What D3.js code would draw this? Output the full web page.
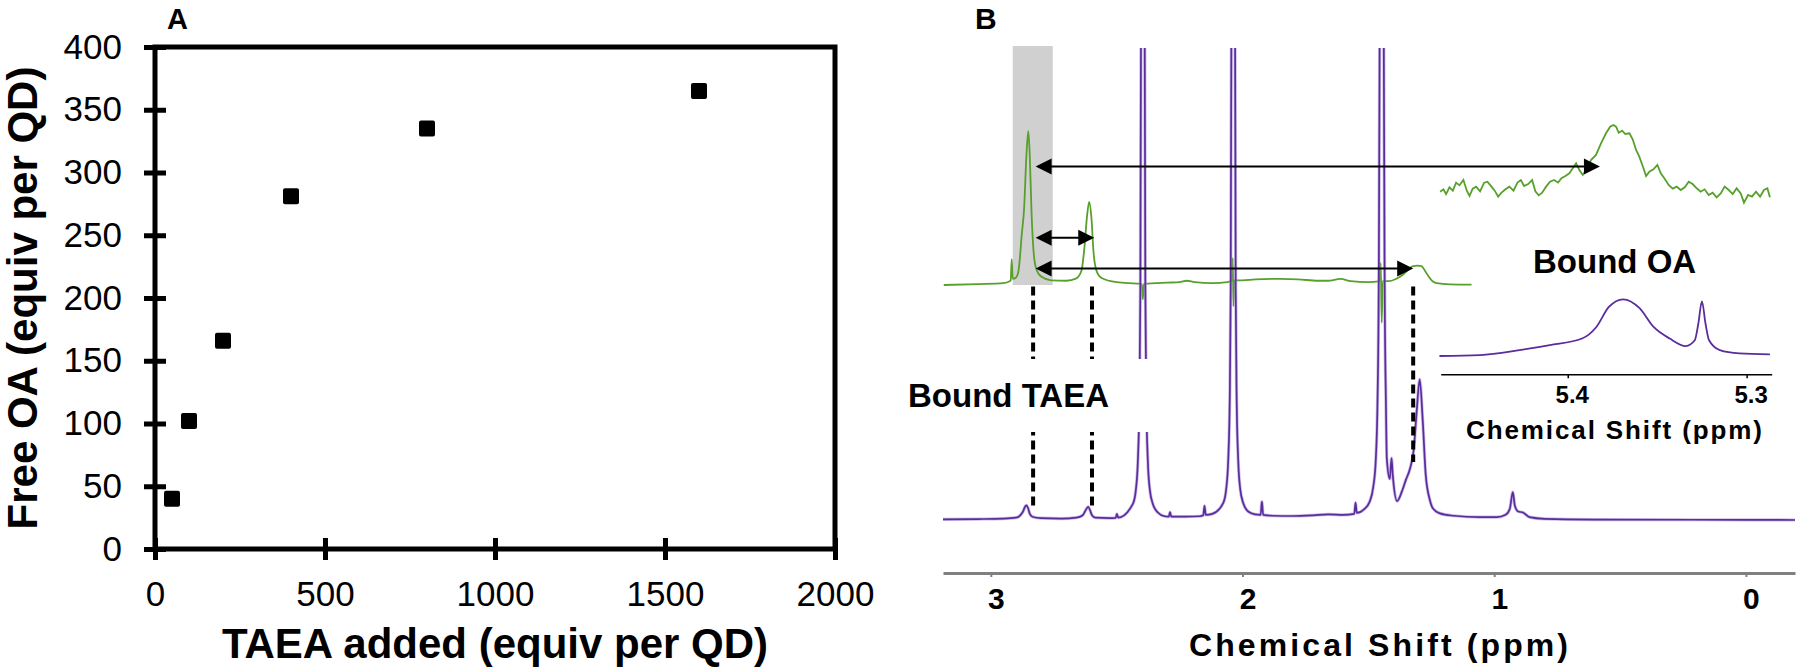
<!DOCTYPE html>
<html><head><meta charset="utf-8">
<script src="https://cdn.jsdelivr.net/npm/d3@7"></script>
<style>
html,body{margin:0;padding:0;background:#fff;}
svg{display:block;font-family:"Liberation Sans",Arial,Helvetica,sans-serif;}
</style></head><body>
<svg id="chart" width="1800" height="672"></svg>
<script>
// ---------- Panel A data ----------
const taeaAdded = [50, 100, 200, 400, 800, 1600];
const freeOA    = [40, 102, 166, 281, 335, 365];
const xTicksA = [0, 500, 1000, 1500, 2000];
const yTicksA = [0, 50, 100, 150, 200, 250, 300, 350, 400];

// ---------- Panel B data (ppm, intensity a.u.) ----------
const xTicksB = [3, 2, 1, 0];
const xTicksInset = [5.4, 5.3];

// lower (purple) spectrum
const purpleMain = [
[3.19,0.15],[3.05,0.2],[2.95,0.3],[2.90,0.5],[2.885,0.9],[2.872,1.8],[2.863,2.9],[2.858,3.1],[2.852,2.5],[2.845,1.3],[2.835,0.7],[2.80,0.4],[2.72,0.3],[2.66,0.5],[2.635,1.0],[2.622,2.2],[2.613,2.8],[2.606,2.1],[2.598,1.0],[2.585,0.5],[2.53,0.4],[2.504,0.45],[2.499,1.3],[2.494,0.5],
[2.4357,3.4],[2.4238,6.4],[2.4159,12.4],[2.4099,25],[2.4059,49],[2.4035,100],[2.396,600],[2.3885,100],[2.3861,49],[2.3821,25],[2.3761,12.4],[2.3682,6.4],[2.3563,3.4],[2.3364,1.6],[2.31,0.8],
[2.293,0.7],[2.288,1.7],[2.283,0.7],[2.23,0.7],[2.17,0.8],[2.156,1.0],[2.151,3.0],[2.146,1.1],[2.12,1.3],
[2.0767,3.6],[2.0648,6.6],[2.0569,12.6],[2.0509,25],[2.0469,49],[2.0445,100],[2.037,600],[2.0295,100],[2.0271,49],[2.0231,25],[2.0171,12.6],[2.0092,6.6],[1.9973,3.6],[1.9774,1.8],[1.95,1.2],
[1.928,1.1],[1.923,3.9],[1.918,1.1],[1.88,0.9],[1.80,0.85],[1.72,1.0],[1.66,1.2],[1.60,1.1],[1.556,1.3],[1.551,3.7],[1.546,1.5],
[1.5185,2.2],[1.4947,3.9],[1.4806,7.0],[1.4708,12.5],[1.4637,25],[1.4589,49],[1.4553,100],[1.447,600],[1.4387,100],[1.4351,49],[1.4303,25],[1.4267,13],[1.4148,8.7],[1.408,13.1],[1.403,9.5],[1.386,4.0],[1.367,6.0],[1.351,8.5],[1.335,10.8],[1.3195,15],[1.308,23],[1.296,29.8],[1.284,21],[1.272,9.5],[1.256,4.3],[1.244,2.5],[1.216,1.4],[1.16,0.9],[1.06,0.6],
[0.99,0.6],[0.955,1.1],[0.938,2.4],[0.926,5.9],[0.918,3.0],[0.905,1.8],[0.886,1.6],[0.86,0.6],[0.80,0.25],[0.60,0.1],[0.20,0.05],[-0.195,0]
];

// upper (green) spectrum
const greenMain = [
[3.187,0],[3.05,0.2],[2.95,0.4],[2.925,0.8],[2.921,1.0],[2.917,5.5],[2.913,1.3],[2.90,1.6],[2.89,3.0],[2.884,6.0],[2.878,10.2],[2.868,16],[2.858,28],[2.851,32.6],[2.845,27],[2.838,15],[2.830,7],[2.820,3.5],[2.80,1.8],[2.76,1.0],[2.70,0.9],[2.66,1.4],[2.64,3.0],[2.628,8],[2.617,15],[2.609,17.6],[2.600,14],[2.592,7],[2.580,3],[2.56,1.5],[2.50,0.6],[2.42,0.3],[2.400,0.2],[2.396,-3],[2.392,0.2],[2.30,0.5],[2.25,0.6],[2.222,0.9],[2.19,0.6],[2.12,0.4],[2.06,0.6],[2.041,1.0],[2.039,5.7],[2.036,-4.5],[2.033,1.0],[2.00,1.0],[1.95,1.2],[1.85,1.3],[1.78,1.2],[1.70,0.9],[1.66,0.9],[1.61,1.3],[1.57,0.8],[1.50,0.6],[1.455,0.8],[1.451,4.7],[1.447,-8],[1.443,0.8],[1.42,0.8],[1.39,1.3],[1.37,1.9],[1.35,2.8],[1.323,4.0],[1.305,4.1],[1.289,4.0],[1.275,3.0],[1.263,2.0],[1.245,0.8],[1.229,0.4],[1.176,0.15],[1.09,0.1]
];

// inset: olefinic region, purple
const purpleInset = [
[5.4717,1.7],[5.449,3.4],[5.427,12],[5.410,20.7],[5.392,32],[5.384,52],[5.377,86.7],[5.369,100],[5.360,85],[5.352,52],[5.343,32],[5.334,19],[5.329,29],[5.327,58],[5.325,96.5],[5.323,58],[5.321,29],[5.315,12],[5.304,6.3],[5.287,4.6]
];

// inset: olefinic region, green (noisy)
const greenInset = [
[5.4713,4.8],[5.4695,8.2],[5.4680,1.4],[5.4661,11.1],[5.4642,6.3],[5.4624,17.9],[5.4605,14.0],[5.4583,21.7],[5.4564,6.3],[5.4549,-1.4],[5.4531,9.2],[5.4512,12.1],[5.4490,5.3],[5.4467,17.9],[5.4449,19.3],[5.4426,12.1],[5.4408,6.3],[5.4389,-2.4],[5.4370,3.4],[5.4348,8.2],[5.4326,12.1],[5.4303,6.3],[5.4281,17.9],[5.4262,21.7],[5.4244,13.0],[5.4221,15.9],[5.4199,21.7],[5.4181,5.3],[5.4162,-0.5],[5.4143,3.4],[5.4121,12.1],[5.4099,19.3],[5.4076,21.7],[5.4054,17.9],[5.4035,24.2],[5.4013,27.5],[5.3991,31.4],[5.3972,38.6],[5.3953,45.9],[5.3935,36.2],[5.3916,29.0],[5.3894,37.2],[5.3870,50.7],[5.3842,58.0],[5.3814,74.9],[5.3786,89.4],[5.3763,99.0],[5.3745,101.4],[5.3730,99.0],[5.3715,90.3],[5.3696,93.2],[5.3678,88.4],[5.3655,89.4],[5.3637,80.7],[5.3618,65.2],[5.3600,55.6],[5.3581,42.0],[5.3562,27.5],[5.3544,33.8],[5.3521,37.2],[5.3499,43.5],[5.3480,31.4],[5.3460,24.2],[5.3436,14.5],[5.3413,9.2],[5.3391,12.1],[5.3369,7.2],[5.3346,11.1],[5.3324,19.3],[5.3302,15.9],[5.3279,9.7],[5.3257,4.8],[5.3235,8.2],[5.3212,0],[5.3190,3.4],[5.3168,-3.4],[5.3145,2.4],[5.3123,12.1],[5.3100,7.2],[5.3078,1.4],[5.3056,9.7],[5.3033,2.4],[5.3015,-11.1],[5.2992,0],[5.2970,-2.4],[5.2948,4.8],[5.2925,-2.4],[5.2903,7.2],[5.2884,9.7],[5.2870,-3.4]
];

// annotations (ppm positions / green-trace heights)
const shadedBand = [2.913, 2.754];
const boundTAEA  = [2.832, 2.598, 1.322];
const arrowsSame = [{from:2.822, to:2.589, h:10}, {from:2.822, to:1.322, h:3.5}];
const arrowInset = {from:2.822, to:5.382, h:25.1};

// ---------- drawing ----------
const svg = d3.select("#chart");
const font = '"Liberation Sans", Arial, sans-serif';

// Panel A
const xA = d3.scaleLinear().domain([0, 2000]).range([155, 835]);
const yA = d3.scaleLinear().domain([0, 400]).range([549, 47]);
const gA = svg.append("g");

gA.append("rect")
  .attr("x", xA(0)).attr("y", yA(400))
  .attr("width", xA(2000) - xA(0)).attr("height", yA(0) - yA(400))
  .attr("fill", "none").attr("stroke", "#000").attr("stroke-width", 5);

const yAxA = gA.append("g").attr("transform", `translate(${xA(0)},0)`)
  .call(d3.axisLeft(yA).tickValues(yTicksA).tickSize(11).tickPadding(22).tickSizeOuter(0).tickFormat(d3.format("d")));
yAxA.select(".domain").remove();
yAxA.selectAll(".tick line").attr("x1", 11).attr("stroke", "#000").attr("stroke-width", 5);
yAxA.selectAll(".tick text").attr("font-size", 35).attr("font-family", font).attr("fill", "#000");

const xAxA = gA.append("g").attr("transform", `translate(0,${yA(0)})`)
  .call(d3.axisBottom(xA).tickValues(xTicksA).tickSize(11).tickPadding(21).tickSizeOuter(0).tickFormat(d3.format("d")));
xAxA.select(".domain").remove();
xAxA.selectAll(".tick line").attr("y1", -11).attr("stroke", "#000").attr("stroke-width", 5);
xAxA.selectAll(".tick text").attr("font-size", 35).attr("font-family", font).attr("fill", "#000");

gA.selectAll("rect.pt").data(taeaAdded).join("rect").attr("class", "pt")
  .attr("x", d => xA(d) - 8).attr("y", (d, i) => yA(freeOA[i]) - 8)
  .attr("width", 16).attr("height", 16).attr("rx", 2).attr("fill", "#000");

gA.append("text").attr("x", (xA(0) + xA(2000)) / 2).attr("y", 658)
  .attr("text-anchor", "middle").attr("font-size", 42).attr("font-weight", "bold")
  .text("TAEA added (equiv per QD)");
gA.append("text").attr("transform", `translate(37,${(yA(0) + yA(400)) / 2}) rotate(-90)`)
  .attr("text-anchor", "middle").attr("font-size", 42).attr("font-weight", "bold")
  .text("Free OA (equiv per QD)");
gA.append("text").attr("x", 167).attr("y", 29).attr("font-size", 29).attr("font-weight", "bold").text("A");

// Panel B
const xB = d3.scaleLinear().domain([3.19, -0.195]).range([943, 1795]);
const xI = d3.scaleLinear().domain([5.471, 5.286]).range([1440.7, 1771.7]);
const yP = d3.scaleLinear().domain([0, 100]).range([520, 48]);
const yG = d3.scaleLinear().domain([0, 100]).range([285, 285 - 472]);
const yIP = d3.scaleLinear().domain([0, 100]).range([357, 299.3]);
const yIG = d3.scaleLinear().domain([0, 100]).range([195, 126]);
const gB = svg.append("g");

svg.append("defs").append("clipPath").attr("id", "clipTop")
  .append("rect").attr("x", 900).attr("y", 48).attr("width", 900).attr("height", 624);

const purple = "#5a2c9c", green = "#57a02c";

// shaded band
gB.append("rect").attr("x", xB(shadedBand[0])).attr("y", 46)
  .attr("width", xB(shadedBand[1]) - xB(shadedBand[0])).attr("height", yG(0) - 46)
  .attr("fill", "#d0d0d0");

const lineG = d3.line().x(d => xB(d[0])).y(d => yG(d[1])).curve(d3.curveMonotoneX);
const lineP = d3.line().x(d => xB(d[0])).y(d => yP(d[1])).curve(d3.curveMonotoneX);

gB.append("path").attr("d", lineG(greenMain)).attr("fill", "none").attr("stroke", green).attr("stroke-width", 1.8);
gB.append("path").attr("d", lineP(purpleMain)).attr("clip-path", "url(#clipTop)")
  .attr("fill", "none").attr("stroke", "#a890d4").attr("stroke-width", 3.2).attr("opacity", 0.6);
gB.append("path").attr("d", lineP(purpleMain)).attr("clip-path", "url(#clipTop)")
  .attr("fill", "none").attr("stroke", purple).attr("stroke-width", 1.7);

// inset traces
gB.append("path").attr("d", d3.line().x(d => xI(d[0])).y(d => yIG(d[1]))(greenInset))
  .attr("fill", "none").attr("stroke", green).attr("stroke-width", 1.8);
gB.append("path").attr("d", d3.line().x(d => xI(d[0])).y(d => yIP(d[1])).curve(d3.curveMonotoneX)(purpleInset))
  .attr("fill", "none").attr("stroke", purple).attr("stroke-width", 1.8);

// dashed bound-TAEA markers
const dashBottoms = [yP(2.4), yP(2.6), yP(12.3)];
boundTAEA.forEach((p, i) => {
  gB.append("line").attr("x1", xB(p)).attr("x2", xB(p))
    .attr("y1", yG(-0.3)).attr("y2", dashBottoms[i])
    .attr("stroke", "#000").attr("stroke-width", 4).attr("stroke-dasharray", "9,5");
});

// label box
gB.append("rect").attr("x", 904).attr("y", 359).attr("width", xB(2.37) - 904).attr("height", 73).attr("fill", "#fff");
gB.append("text").attr("x", 908).attr("y", 407).attr("font-size", 33).attr("font-weight", "bold").text("Bound TAEA");
gB.append("text").attr("x", 1533).attr("y", 273).attr("font-size", 33).attr("font-weight", "bold").text("Bound OA");
gB.append("text").attr("x", 975).attr("y", 29).attr("font-size", 30).attr("font-weight", "bold").text("B");

// arrows
function arrow(x1, x2, y) {
  const L = 16, W = 8, dir = x2 > x1 ? 1 : -1;
  gB.append("line").attr("x1", x1 + dir * 4).attr("x2", x2 - dir * 4).attr("y1", y).attr("y2", y)
    .attr("stroke", "#000").attr("stroke-width", 2);
  gB.append("path").attr("d", `M${x1},${y} L${x1 + dir * L},${y - W} L${x1 + dir * L},${y + W} Z`).attr("fill", "#000");
  gB.append("path").attr("d", `M${x2},${y} L${x2 - dir * L},${y - W} L${x2 - dir * L},${y + W} Z`).attr("fill", "#000");
}
arrowsSame.forEach(a => arrow(xB(a.from), xB(a.to), yG(a.h)));
arrow(xB(arrowInset.from), xI(arrowInset.to), yG(arrowInset.h));

// main axis
const axB = gB.append("g").attr("transform", "translate(0,573)")
  .call(d3.axisBottom(xB).tickValues(xTicksB).tickSize(4).tickSizeOuter(0).tickPadding(11).tickFormat(d3.format("d")));
axB.select(".domain").attr("stroke", "#808080").attr("stroke-width", 3);
axB.selectAll(".tick line").attr("stroke", "#808080").attr("stroke-width", 2);
axB.selectAll(".tick text").attr("font-size", 30).attr("font-weight", "bold").attr("font-family", font)
  .attr("fill", "#000").attr("dx", 5);
gB.append("text").attr("x", 1378.5).attr("y", 656).attr("text-anchor", "middle")
  .attr("font-size", 32).attr("font-weight", "bold")
  .attr("textLength", 379).attr("lengthAdjust", "spacing").text("Chemical Shift (ppm)");

// inset axis
const axI = gB.append("g").attr("transform", "translate(0,374.3)")
  .call(d3.axisBottom(xI).tickValues(xTicksInset).tickSize(4).tickSizeOuter(0).tickPadding(8).tickFormat(d3.format(".1f")));
axI.select(".domain").attr("stroke", "#000").attr("stroke-width", 1.6);
axI.selectAll(".tick line").attr("stroke", "#000").attr("stroke-width", 1.5);
axI.selectAll(".tick text").attr("font-size", 24).attr("font-weight", "bold").attr("font-family", font)
  .attr("fill", "#000").attr("dx", 4);
gB.append("text").attr("x", 1614).attr("y", 439).attr("text-anchor", "middle")
  .attr("font-size", 26).attr("font-weight", "bold")
  .attr("textLength", 296).attr("lengthAdjust", "spacing").text("Chemical Shift (ppm)");

svg.selectAll("text").attr("font-family", font);
</script></body></html>
